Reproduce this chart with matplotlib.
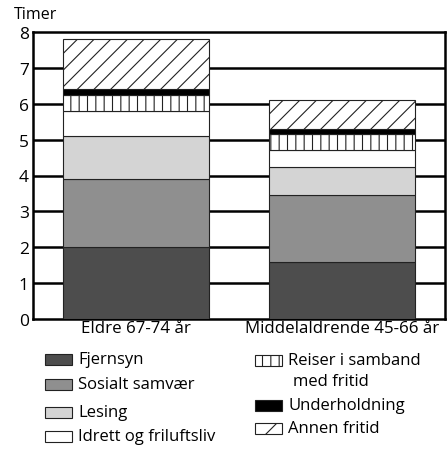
import matplotlib.pyplot as plt
from matplotlib.patches import Rectangle

plt.rcParams["font.family"] = ["Open Sans", "DejaVu Sans"]
plt.rcParams["hatch.linewidth"] = 0.8

# Data (hours per day)
groups = ["Eldre 67-74 år", "Middelaldrende 45-66 år"]
activities = ["Fjernsyn", "Sosialt samvær", "Lesing", "Idrett og friluftsliv",
              "Reiser i samband\nmed fritid", "Underholdning", "Annen fritid"]
eldre = [2.0, 1.9, 1.2, 0.7, 0.45, 0.15, 1.4]
middel = [1.6, 1.85, 0.8, 0.45, 0.45, 0.15, 0.8]
yticks = [0, 1, 2, 3, 4, 5, 6, 7, 8]

# Styles
colors = ["#4d4d4d", "#8f8f8f", "#d4d4d4", "white", "white", "black", "white"]
hatches = [None, None, None, None, "||", None, "//"]

fig = plt.figure(figsize=(4.48, 4.56), dpi=100)
ax = fig.add_axes([33 / 448, 1 - 320 / 456, 412 / 448, 287 / 456])

x = [0, 1]
bottom = [0.0, 0.0]
for i, name in enumerate(activities):
    vals = [eldre[i], middel[i]]
    ax.bar(x, vals, width=0.71, bottom=bottom, color=colors[i], hatch=hatches[i],
           edgecolor="#222222", linewidth=0.8, zorder=3)
    bottom = [bottom[0] + vals[0], bottom[1] + vals[1]]

ax.set_xlim(-0.5, 1.5)
ax.set_ylim(0, 8)
ax.set_yticks(yticks)
ax.set_xticks(x)
ax.set_xticklabels(groups, fontsize=12.2)
ax.tick_params(axis="both", length=0, pad=3)
ax.tick_params(axis="y", labelsize=12.5)
ax.tick_params(axis="x", pad=1)
for yy in yticks[1:-1]:
    ax.axhline(yy, color="black", linewidth=1.8, zorder=1)
for s in ax.spines.values():
    s.set_linewidth(1.8)
fig.text(14 / 448, 1 - 15 / 456, "Timer", fontsize=11.5, va="center", ha="left")

# Legend drawn by hand in two columns
col1 = [(0, 360), (1, 385), (2, 413), (3, 437)]
col2 = [(4, 361), (5, 406), (6, 429)]
for idx, yc in col1 + col2:
    x0 = 45 if idx < 4 else 255
    hatch = "/" if hatches[idx] == "//" else hatches[idx]
    fig.add_artist(Rectangle((x0 / 448, 1 - (yc + 5.5) / 456), 27 / 448, 11 / 456,
                             transform=fig.transFigure, facecolor=colors[idx],
                             hatch=hatch, edgecolor="#222222", linewidth=0.8))
    if "\n" in activities[idx]:
        first, second = activities[idx].split("\n")
        fig.text((x0 + 33) / 448, 1 - yc / 456, first, fontsize=12, va="center")
        fig.text((x0 + 38) / 448, 1 - (yc + 21) / 456, second, fontsize=12, va="center")
    else:
        fig.text((x0 + 33) / 448, 1 - yc / 456, activities[idx], fontsize=12, va="center")

fig.savefig("out.png", dpi=100)
